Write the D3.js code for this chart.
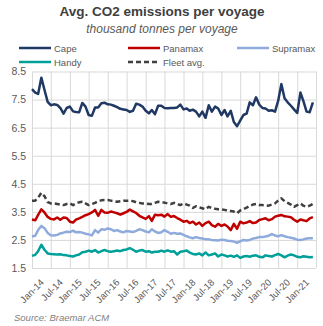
<!DOCTYPE html>
<html>
<head>
<meta charset="utf-8">
<script src="https://cdn.jsdelivr.net/npm/d3@7"></script>
<style>
  body { margin: 0; background: #fff; }
  svg { display: block; font-family: "Liberation Sans", Arial, sans-serif; }
  .grid line { stroke: #d9d9d9; stroke-width: 1; }
  .grid path { display: none; }
  .ylab text, .xlab text { fill: #595959; }
  .ylab path, .ylab line, .xlab path, .xlab line { display: none; }
</style>
</head>
<body>
<svg id="chart" width="323" height="326"></svg>
<script>
// monthly series, Jan-14 .. Jun-21
var firstMonth = new Date(2014, 0, 1);
var yTicks = [1.5, 2.5, 3.5, 4.5, 5.5, 6.5, 7.5, 8.5];

var cape = [7.87, 7.75, 7.70, 8.28, 7.85, 7.42, 7.30, 7.33, 7.31, 7.20,
            7.00, 7.20, 7.25, 7.08, 7.06, 7.05, 7.38, 7.25, 6.95, 6.92,
            7.22, 7.22, 7.37, 7.39, 7.33, 7.32, 7.28, 7.23, 7.17, 7.15,
            7.13, 7.06, 7.10, 7.35, 7.32, 7.25, 7.10, 7.01, 7.13, 6.98,
            7.28, 7.28, 7.20, 7.19, 7.20, 7.20, 7.22, 7.32, 7.15, 7.18,
            7.10, 7.14, 7.07, 6.90, 7.07, 6.85, 7.30, 7.07, 7.25, 7.18,
            6.95, 7.13, 6.90, 7.10, 6.70, 6.55, 6.75, 6.95, 7.00, 7.40,
            7.30, 7.58, 7.32, 7.20, 7.18, 7.10, 7.12, 7.07, 7.45, 8.05,
            7.55, 7.40, 7.28, 7.15, 7.02, 7.75, 7.45, 7.07, 7.05, 7.40];

var panamax = [3.23, 3.20, 3.39, 3.59, 3.48, 3.32, 3.25, 3.23, 3.30, 3.22,
               3.30, 3.28, 3.15, 3.12, 3.22, 3.27, 3.32, 3.38, 3.42, 3.48,
               3.57, 3.36, 3.57, 3.48, 3.47, 3.51, 3.48, 3.45, 3.40, 3.45,
               3.50, 3.58, 3.52, 3.46, 3.36, 3.30, 3.25, 3.35, 3.18, 3.40,
               3.38, 3.40, 3.33, 3.42, 3.32, 3.35, 3.28, 3.22, 3.15, 3.18,
               3.10, 3.15, 3.05, 3.12, 3.00, 3.10, 3.15, 3.03, 2.97, 3.07,
               3.00, 3.05, 2.98, 2.85, 3.07, 2.90, 3.15, 3.09, 3.12, 3.17,
               3.10, 3.12, 3.21, 3.24, 3.27, 3.20, 3.24, 3.33, 3.36, 3.39,
               3.34, 3.33, 3.31, 3.22, 3.15, 3.23, 3.20, 3.17, 3.27, 3.31];

var supramax = [2.62, 2.65, 2.85, 3.00, 2.92, 2.75, 2.67, 2.66, 2.68, 2.73,
                2.76, 2.79, 2.78, 2.83, 2.77, 2.78, 2.76, 2.72, 2.70, 2.66,
                2.85, 2.76, 2.88, 2.86, 2.91, 2.88, 2.82, 2.85, 2.80, 2.77,
                2.82, 2.80, 2.78, 2.82, 2.88, 2.85, 2.80, 2.77, 2.88, 2.80,
                2.75, 2.77, 2.85, 2.79, 2.72, 2.75, 2.72, 2.73, 2.68, 2.63,
                2.59, 2.56, 2.60, 2.57, 2.55, 2.52, 2.52, 2.50, 2.49, 2.48,
                2.51, 2.50, 2.47, 2.46, 2.44, 2.40, 2.45, 2.50, 2.48, 2.50,
                2.55, 2.57, 2.60, 2.60, 2.62, 2.65, 2.71, 2.66, 2.63, 2.67,
                2.63, 2.60, 2.58, 2.55, 2.51, 2.50, 2.52, 2.55, 2.56, 2.56];

var handy = [1.93, 1.97, 2.10, 2.33, 2.15, 2.02, 2.00, 1.99, 1.98, 1.99,
             1.96, 1.95, 1.93, 1.91, 1.95, 1.98, 2.06, 2.08, 2.12, 2.08,
             2.14, 2.05, 2.10, 2.14, 2.10, 2.08, 2.10, 2.12, 2.10, 2.14,
             2.16, 2.21, 2.15, 2.08, 2.12, 2.14, 2.08, 2.10, 2.05, 2.08,
             2.08, 2.12, 2.08, 2.13, 2.08, 2.10, 1.98, 2.08, 2.10, 2.12,
             2.05, 2.00, 1.98, 2.02, 1.95, 2.05, 1.95, 1.98, 2.02, 1.91,
             1.98, 1.95, 1.91, 1.94, 1.90, 1.95, 1.86, 1.91, 1.93, 1.90,
             1.94, 1.95, 1.90, 1.88, 1.95, 1.93, 1.91, 1.96, 2.00, 1.95,
             1.88, 1.94, 1.98, 1.95, 1.90, 1.88, 1.92, 1.90, 1.88, 1.89];

var fleet = [3.90, 3.90, 4.00, 4.18, 4.06, 3.85, 3.80, 3.80, 3.78, 3.76,
             3.74, 3.78, 3.80, 3.74, 3.80, 3.84, 3.86, 3.80, 3.74, 3.78,
             3.82, 3.88, 3.91, 3.92, 3.92, 3.90, 3.88, 3.86, 3.88, 3.90,
             3.90, 3.90, 3.88, 3.84, 3.82, 3.80, 3.80, 3.78, 3.78, 3.82,
             3.86, 3.84, 3.83, 3.80, 3.78, 3.82, 3.78, 3.74, 3.80, 3.76,
             3.72, 3.64, 3.70, 3.66, 3.63, 3.59, 3.68, 3.64, 3.61, 3.59,
             3.59, 3.57, 3.54, 3.53, 3.51, 3.45, 3.55, 3.60, 3.65, 3.71,
             3.76, 3.78, 3.74, 3.74, 3.73, 3.72, 3.76, 3.80, 3.90, 3.98,
             3.88, 3.82, 3.76, 3.68, 3.74, 3.80, 3.72, 3.68, 3.72, 3.78];

var seriesNames = ['Cape', 'Panamax', 'Supramax', 'Handy', 'Fleet avg.'];
var seriesData = [cape, panamax, supramax, handy, fleet];
var seriesColors = ['#203864', '#C00000', '#8FAADC', '#00A09A', '#404040'];

var months = cape.map(function(d, i) { return d3.timeMonth.offset(firstMonth, i); });

var svg = d3.select('#chart');
var plotLeft = 32, plotRight = 316, plotTop = 71.5, plotBottom = 268;

var x = d3.scaleTime()
  .domain([firstMonth, new Date(2021, 6, 1)])
  .range([plotLeft, plotRight]);
var y = d3.scaleLinear()
  .domain([1.5, 8.5])
  .range([plotBottom, plotTop]);

var gridMonths = d3.timeMonth.every(6).range(firstMonth, new Date(2021, 6, 2));
var labelMonths = gridMonths.slice(0, gridMonths.length - 1);

// gridlines
svg.append('g')
  .attr('class', 'grid')
  .attr('transform', 'translate(0,' + plotBottom + ')')
  .call(d3.axisBottom(x).tickValues(gridMonths).tickSize(-(plotBottom - plotTop)).tickFormat(''));
svg.append('g')
  .attr('class', 'grid')
  .attr('transform', 'translate(' + plotLeft + ',0)')
  .call(d3.axisLeft(y).tickValues(yTicks).tickSize(-(plotRight - plotLeft)).tickFormat(''));

// y labels
svg.append('g')
  .attr('class', 'ylab')
  .attr('transform', 'translate(' + plotLeft + ',0)')
  .call(d3.axisLeft(y).tickValues(yTicks).tickSize(0).tickPadding(6).tickFormat(d3.format('.1f')))
  .selectAll('text')
  .attr('font-size', 10.5)
  .attr('font-family', '"Liberation Sans", Arial, sans-serif');

// x labels
svg.append('g')
  .attr('class', 'xlab')
  .attr('transform', 'translate(0,' + plotBottom + ')')
  .call(d3.axisBottom(x).tickValues(labelMonths).tickSize(0).tickFormat(d3.timeFormat('%b-%y')))
  .selectAll('text')
  .attr('font-size', 9.5)
  .attr('font-family', '"Liberation Sans", Arial, sans-serif')
  .attr('text-anchor', 'end')
  .attr('dy', 0)
  .attr('transform', 'translate(10,13) rotate(-45)');

// lines
var line = d3.line()
  .x(function(d, i) { return x(months[i]); })
  .y(function(d) { return y(d); });

seriesData.forEach(function(vals, k) {
  svg.append('path')
    .datum(vals)
    .attr('d', line)
    .attr('fill', 'none')
    .attr('stroke', seriesColors[k])
    .attr('stroke-width', 2.5)
    .attr('stroke-linejoin', 'round')
    .attr('stroke-dasharray', k == 4 ? '5,3' : null);
});

// titles
svg.append('text')
  .attr('x', 162).attr('y', 16)
  .attr('text-anchor', 'middle')
  .attr('font-size', 13.5).attr('font-weight', 'bold')
  .attr('fill', '#404040')
  .text('Avg. CO2 emissions per voyage');
svg.append('text')
  .attr('x', 162).attr('y', 33)
  .attr('text-anchor', 'middle')
  .attr('font-size', 12).attr('font-style', 'italic')
  .attr('fill', '#595959')
  .text('thousand tonnes per voyage');

// legend
var legendPos = [[19, 48], [128, 48], [237, 48], [19, 62], [128, 62]];
seriesNames.forEach(function(name, k) {
  var p = legendPos[k];
  svg.append('line')
    .attr('x1', p[0]).attr('x2', p[0] + 32)
    .attr('y1', p[1]).attr('y2', p[1])
    .attr('stroke', seriesColors[k])
    .attr('stroke-width', 2.5)
    .attr('stroke-dasharray', k == 4 ? '5,3' : null);
  svg.append('text')
    .attr('x', p[0] + 35).attr('y', p[1] + 3.5)
    .attr('font-size', 9.5)
    .attr('fill', '#595959')
    .text(name);
});

// source
svg.append('text')
  .attr('x', 14).attr('y', 321)
  .attr('font-size', 9.5).attr('font-style', 'italic')
  .attr('fill', '#7f7f7f')
  .text('Source: Braemar ACM');
</script>
</body>
</html>
